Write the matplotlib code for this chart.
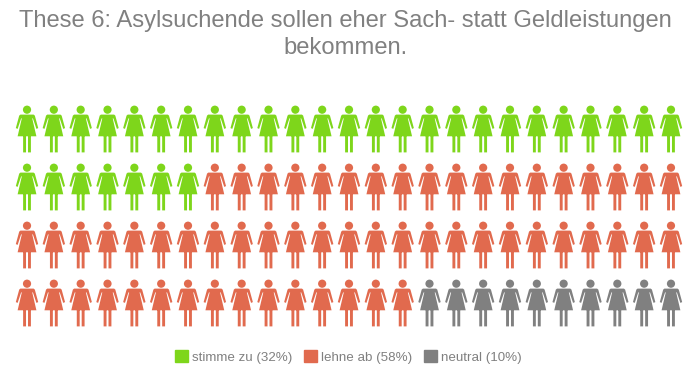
import matplotlib
matplotlib.use("Agg")
import matplotlib.pyplot as plt
import matplotlib.path as mpath
import matplotlib.patches as mpatches
import numpy as np

plt.rcParams['font.family'] = ['Liberation Sans', 'DejaVu Sans']

# Datos
titulo = "These 6: Asylsuchende sollen eher Sach- statt Geldleistungen\nbekommen."
categorias = ["stimme zu (32%)", "lehne ab (58%)", "neutral (10%)"]
cantidades = [32, 58, 10]
colores = ["#7ED61B", "#E16A4E", "#808080"]
columnas = 25
filas = 4

# Figura de mujer, en pixeles respecto al centro del icono
cabeza = mpath.Path.circle((0, 19.3), 4.1)
cuerpo = mpath.Path([
    (-6.6, 14.4), (6.6, 14.4), (7.8, 13.4), (11.2, 0.9), (9.4, 0.1), (5.9, 10.6),
    (5.2, 10.6), (9.4, -7.3), (-9.4, -7.3), (-5.2, 10.6), (-5.9, 10.6),
    (-9.4, 0.1), (-11.2, 0.9), (-7.8, 13.4), (-6.6, 14.4),
], closed=True)
pierna_izq = mpath.Path([(-3.9, -7), (-1.0, -7), (-1.0, -23.4), (-3.9, -23.4), (-3.9, -7)], closed=True)
pierna_der = mpath.Path([(1.0, -7), (3.9, -7), (3.9, -23.4), (1.0, -23.4), (1.0, -7)], closed=True)
mujer = mpath.Path.make_compound_path(cabeza, cuerpo, pierna_izq, pierna_der)

fig = plt.figure(figsize=(6.91, 3.74), dpi=100)
ax = fig.add_axes([13.6 / 691, (374 - 332.0) / 374, 670.8 / 691, 232 / 374])

# Dibujar iconos
fila, col = np.divmod(np.arange(sum(cantidades)), columnas)
color_icono = np.repeat(colores, cantidades)
ax.scatter(col, fila, marker=mujer, s=(2 * 23.4 * 0.72) ** 2, c=color_icono, linewidths=0)
ax.set_xlim(-0.5, columnas - 0.5)
ax.set_ylim(filas - 0.5, -0.5)
ax.axis("off")

fig.text(0.5, 1 - 10 / 374, titulo, ha="center", va="top", fontsize=17.15, color="#808080",
         linespacing=1.3)

# Leyenda
parches = [mpatches.Patch(color=c, label=l) for c, l in zip(colores, categorias)]
fig.legend(handles=parches, loc="center", bbox_to_anchor=(348.5 / 691, 1 - 357 / 374), ncol=3,
           frameon=False, fontsize=9.6, labelcolor="#808080", handlelength=1, handleheight=1,
           handletextpad=0.3, columnspacing=0.85, borderpad=0)

fig.savefig("out.png", dpi=100)
